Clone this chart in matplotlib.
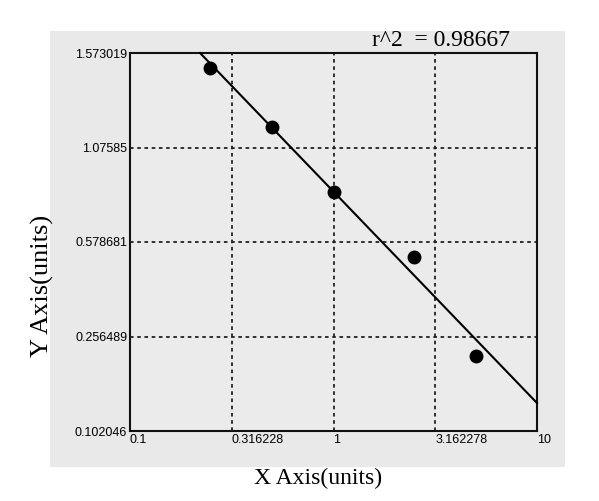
import numpy as np
import matplotlib
matplotlib.use("Agg")
import matplotlib.pyplot as plt
from matplotlib.patches import Rectangle

# standard points (x in units, y in evenly spaced axis positions 0..4)
x_pts = [0.247, 0.5, 1.0, 2.49, 5.0]
y_pts = [3.84, 3.22, 2.53, 1.84, 0.79]

# fitted line end points
x_fit = [0.221, 10.0]
y_fit = [4.0, 0.296]

x_ticks = [0.1, 0.316228, 1, 3.162278, 10]
x_ticklabels = ["0.1", "0.316228", "1", "3.162278", "10"]
y_ticks = [0, 1, 2, 3, 4]
y_ticklabels = ["0.102046", "0.256489", "0.578681", "1.07585", "1.573019"]

r2_text = "r^2  = 0.98667"


def main():
    fig = plt.figure(figsize=(5.99, 5.01), dpi=100)
    fig.patch.set_facecolor("white")
    # grey panel behind the plot
    fig.patches.append(Rectangle((50 / 599, 1 - 467 / 501), 515 / 599, 436 / 501,
                                 transform=fig.transFigure, facecolor="#e9e9e9",
                                 edgecolor="none", zorder=-5))

    ax = fig.add_axes([130 / 599, 1 - 431 / 501, 407 / 599, 378 / 501])
    ax.set_zorder(2)
    ax.set_facecolor("#ebebeb")
    ax.set_xscale("log")
    ax.set_xlim(0.1, 10)
    ax.set_ylim(0, 4)

    ax.set_xticks(x_ticks)
    ax.set_xticklabels(x_ticklabels, ha="left")
    ax.minorticks_off()
    ax.set_yticks(y_ticks)
    ax.set_yticklabels(y_ticklabels)
    ax.tick_params(length=0, labelsize=9, pad=2)
    for lab in ax.get_xticklabels():
        lab.set_fontfamily("Liberation Sans")
    for lab in ax.get_yticklabels():
        lab.set_fontfamily("Liberation Sans")

    ax.grid(True, color="#222222", linestyle=(0, (2, 2)), linewidth=1.3)
    ax.set_axisbelow(True)
    for sp in ax.spines.values():
        sp.set_linewidth(1.5)
        sp.set_color("#111111")

    ax.plot(x_fit, y_fit, color="black", linewidth=1.5, zorder=3, clip_on=False)
    ax.plot(x_pts, y_pts, "o", color="black", markersize=9, zorder=4)

    fig.text(441 / 599, 1 - 40 / 501, r2_text, ha="center", va="center",
             fontsize=17, family="Liberation Serif")
    fig.text(318 / 599, 1 - 478 / 501, "X Axis(units)", ha="center", va="center",
             fontsize=17, family="Liberation Serif")
    fig.text(42 / 599, 1 - 286 / 501, "Y Axis(units)", ha="center", va="center",
             rotation=90, fontsize=19, family="Liberation Serif")

    fig.savefig("out.png", dpi=100)


if __name__ == '__main__':
    main()
